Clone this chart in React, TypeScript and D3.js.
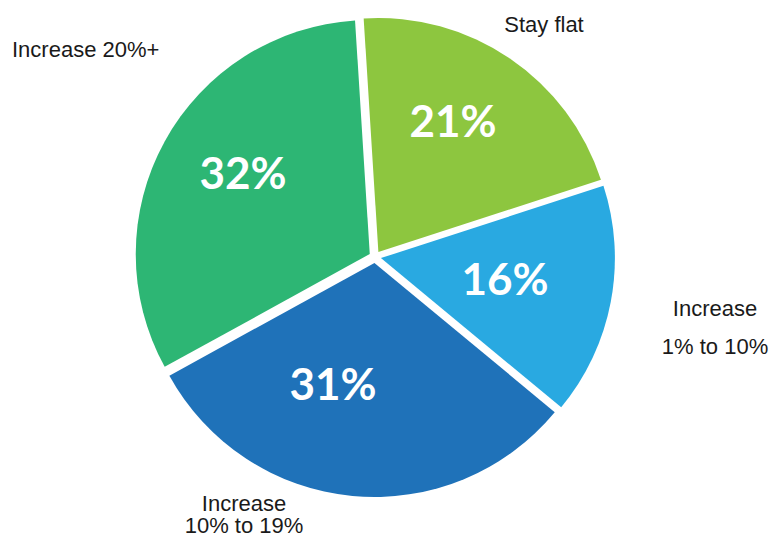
import React from "react";
import * as d3 from "d3";

const categories = ["Stay flat", "Increase 1% to 10%", "Increase 10% to 19%", "Increase 20%+"];
const values = [21, 16, 31, 32];
const colors = ["#8DC63F", "#29A9E1", "#1F72B9", "#2DB674"];

// label layout (relative to pie centre)
const pctOffsets: [number, number][] = [[78, -137], [130, 21], [-42, 126], [-132, -85]];
const nameLabels: { lines: string[]; x: number; y: number; anchor: string; lh: number }[] = [
  { lines: ["Stay flat"], x: 544, y: 32, anchor: "middle", lh: 0 },
  { lines: ["Increase", "1% to 10%"], x: 715, y: 316, anchor: "middle", lh: 38 },
  { lines: ["Increase", "10% to 19%"], x: 244, y: 511, anchor: "middle", lh: 22 },
  { lines: ["Increase 20%+"], x: 12, y: 57, anchor: "start", lh: 0 },
];

const W = 776, H = 536;
const cx = 375, cy = 257, R = 234, explode = 6;

export default function App() {
  const start = (-3.6 * Math.PI) / 180;
  const pie = d3.pie<number>().sort(null).startAngle(start).endAngle(start + 2 * Math.PI);
  const arcs = pie(values);
  const arc = d3.arc<d3.PieArcDatum<number>>().innerRadius(0).outerRadius(R);

  return (
    <svg width={W} height={H} style={{ position: "absolute", left: 0, top: 0, background: "#fff" }}>
      <g transform={`translate(${cx},${cy})`}>
        {arcs.map((a, i) => {
          const mid = (a.startAngle + a.endAngle) / 2;
          const dx = Math.sin(mid) * explode;
          const dy = -Math.cos(mid) * explode;
          return (
            <path key={i} d={arc(a) || ""} fill={colors[i]} transform={`translate(${dx},${dy})`} />
          );
        })}
        {arcs.map((a, i) => (
          <text
            key={"p" + i}
            x={pctOffsets[i][0]}
            y={pctOffsets[i][1]}
            textAnchor="middle"
            dominantBaseline="central"
            fill="#fff"
            fontFamily="Lato, 'Open Sans', sans-serif"
            fontWeight={700}
            fontSize={44}
          >
            {values[i]}%
          </text>
        ))}
      </g>
      {nameLabels.map((l, i) => (
        <text
          key={"n" + i}
          x={l.x}
          y={l.y}
          textAnchor={l.anchor as any}
          fill="#1a1a1a"
          fontFamily="'Liberation Sans', Arial, sans-serif"
          fontSize={22}
        >
          {l.lines.map((t, j) => (
            <tspan key={j} x={l.x} dy={j === 0 ? 0 : l.lh}>
              {t}
            </tspan>
          ))}
        </text>
      ))}
    </svg>
  );
}
